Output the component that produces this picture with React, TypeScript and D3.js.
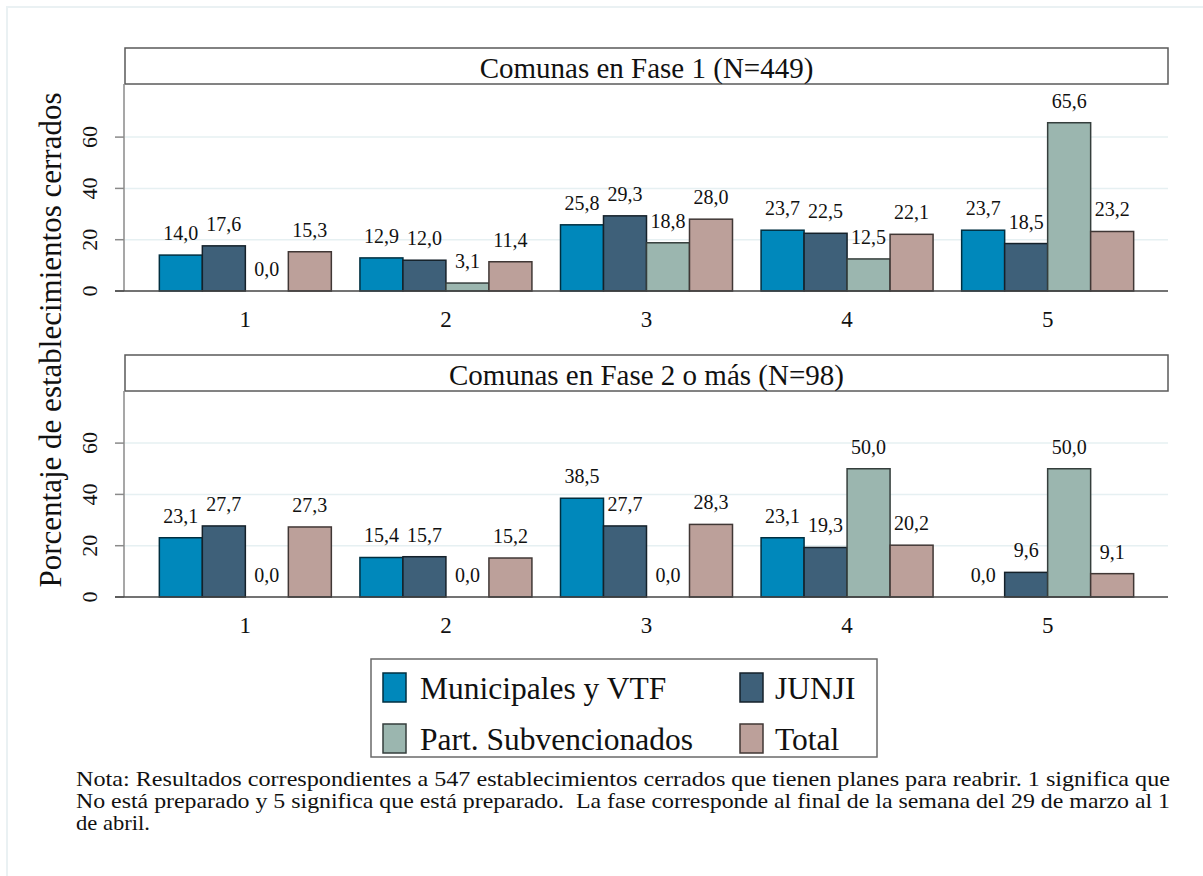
import React from "react";
import * as d3 from "d3";

const categories = ["1", "2", "3", "4", "5"];
const series = ["Municipales y VTF", "JUNJI", "Part. Subvencionados", "Total"];
const seriesColors = ["#0088BB", "#3E6079", "#9BB6AF", "#BCA09A"];

const panelTitles = ["Comunas en Fase 1 (N=449)", "Comunas en Fase 2 o más (N=98)"];

// values per series, one entry per category
const fase1Municipales = [14.0, 12.9, 25.8, 23.7, 23.7];
const fase1Junji = [17.6, 12.0, 29.3, 22.5, 18.5];
const fase1PartSub = [0.0, 3.1, 18.8, 12.5, 65.6];
const fase1Total = [15.3, 11.4, 28.0, 22.1, 23.2];

const fase2Municipales = [23.1, 15.4, 38.5, 23.1, 0.0];
const fase2Junji = [27.7, 15.7, 27.7, 19.3, 9.6];
const fase2PartSub = [0.0, 0.0, 0.0, 50.0, 50.0];
const fase2Total = [27.3, 15.2, 28.3, 20.2, 9.1];

const yTicks = [0, 20, 40, 60];

const yAxisTitle = "Porcentaje de establecimientos cerrados";
const noteLines = [
  "Nota: Resultados correspondientes a 547 establecimientos cerrados que tienen planes para reabrir. 1 significa que",
  "No está preparado y 5 significa que está preparado.  La fase corresponde al final de la semana del 29 de marzo al 1",
  "de abril.",
];

const panelsData = [
  [fase1Municipales, fase1Junji, fase1PartSub, fase1Total],
  [fase2Municipales, fase2Junji, fase2PartSub, fase2Total],
];

const FONT = '"Liberation Serif"';
const fmt = (v: number) => v.toFixed(1).replace(".", ",");

function Panel({ idx, headerTop, baseline }: { idx: number; headerTop: number; baseline: number }) {
  const left = 125;
  const right = 1168;
  const headerBottom = headerTop + 36;
  const x = d3.scalePoint<string>().domain(categories).range([left, right]).padding(0.6);
  const inner = d3.scaleBand<string>().domain(series).range([-86, 86]).padding(0);
  const y = d3.scaleLinear().domain([0, 80]).range([baseline, baseline - 205.2]);
  const data = panelsData[idx];
  return (
    <g>
      <rect x={left} y={headerTop} width={right - left} height={headerBottom - headerTop} fill="#fff" stroke="#5a5a5a" strokeWidth={1.5} />
      <text x={(left + right) / 2} y={headerTop + 30} textAnchor="middle" style={{ fontFamily: FONT }} fontSize={29} fill="#111">
        {panelTitles[idx]}
      </text>
      {yTicks.filter((t) => t > 0).map((t) => (
        <line key={"g" + t} x1={left} x2={right} y1={y(t)} y2={y(t)} stroke="#E6F0F2" strokeWidth={1.5} />
      ))}
      <line x1={left - 1} x2={left - 1} y1={headerBottom} y2={baseline} stroke="#8a8a8a" strokeWidth={1.5} />
      {yTicks.map((t) => (
        <g key={"t" + t}>
          <line x1={left - 10} x2={left - 1} y1={y(t)} y2={y(t)} stroke="#8a8a8a" strokeWidth={1.5} />
          <text
            transform={`translate(${left - 28},${y(t)}) rotate(-90)`}
            textAnchor="middle"
            style={{ fontFamily: FONT }}
            fontSize={22}
            fill="#111"
          >
            {t}
          </text>
        </g>
      ))}
      {categories.map((c, ci) =>
        series.map((s, si) => {
          const v = data[si][ci];
          const bx = (x(c) as number) + (inner(s) as number);
          const bw = inner.bandwidth();
          return (
            <g key={c + s}>
              {v > 0 && (
                <rect
                  x={bx}
                  y={y(v)}
                  width={bw}
                  height={baseline - y(v)}
                  fill={seriesColors[si]}
                  stroke={d3.color(seriesColors[si])!.darker(3).formatHex()}
                  strokeWidth={1.5}
                />
              )}
              <text x={bx + bw / 2} y={y(v) - 15} textAnchor="middle" style={{ fontFamily: FONT }} fontSize={20} fill="#111">
                {fmt(v)}
              </text>
            </g>
          );
        })
      )}
      <line x1={left - 10} x2={right} y1={baseline} y2={baseline} stroke="#444" strokeWidth={1.5} />
      {categories.map((c) => (
        <text key={"x" + c} x={x(c)} y={baseline + 36} textAnchor="middle" style={{ fontFamily: FONT }} fontSize={23} fill="#111">
          {c}
        </text>
      ))}
    </g>
  );
}

export default function App() {
  const legendX = 371;
  const legendY = 659;
  const legendItems = [
    { s: 0, x: 383, y: 673, tx: 420, ty: 699 },
    { s: 1, x: 740, y: 673, tx: 775, ty: 699 },
    { s: 2, x: 383, y: 724, tx: 420, ty: 750 },
    { s: 3, x: 740, y: 724, tx: 775, ty: 750 },
  ];
  return (
    <div style={{ position: "absolute", left: 0, top: 0 }}>
      <svg width={1203} height={876} style={{ display: "block", background: "#fff" }}>
        <rect x={7} y={7} width={1200} height={880} fill="#fff" stroke="#EAF1F3" strokeWidth={2} />
        <text
          transform={`translate(61,340) rotate(-90)`}
          textAnchor="middle"
          style={{ fontFamily: FONT }}
          fontSize={31}
          fill="#111"
        >
          {yAxisTitle}
        </text>
        <Panel idx={0} headerTop={48} baseline={291} />
        <Panel idx={1} headerTop={355} baseline={597} />
        <rect x={legendX} y={legendY} width={506} height={98} fill="#fff" stroke="#6a6a6a" strokeWidth={1.5} />
        {legendItems.map((it) => (
          <g key={it.s}>
            <rect
              x={it.x}
              y={it.y}
              width={23}
              height={29}
              fill={seriesColors[it.s]}
              stroke={d3.color(seriesColors[it.s])!.darker(3).formatHex()}
              strokeWidth={1.5}
            />
            <text x={it.tx} y={it.ty} style={{ fontFamily: FONT }} fontSize={31.5} fill="#111">
              {series[it.s]}
            </text>
          </g>
        ))}
        {noteLines.map((l, i) => (
          <text
            key={i}
            x={76}
            y={786 + i * 22}
            style={{ fontFamily: FONT, whiteSpace: "pre" }}
            fontSize={21}
            fill="#111"
            textLength={i < 2 ? 1094 : 74}
            lengthAdjust="spacingAndGlyphs"
          >
            {l}
          </text>
        ))}
      </svg>
    </div>
  );
}
